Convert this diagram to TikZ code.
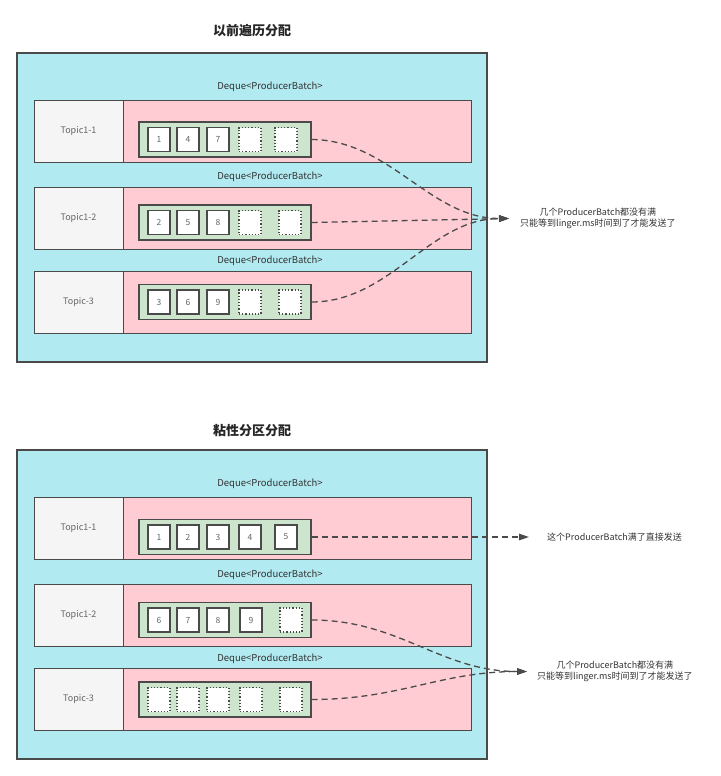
\documentclass[tikz,border=0pt]{standalone}
\usepackage{fontspec}
\setmainfont{Noto Sans CJK SC}
\usetikzlibrary{arrows.meta}

\definecolor{poolblue}{HTML}{B1EAF0}
\definecolor{dequepink}{HTML}{FFCCD3}
\definecolor{batchgreen}{HTML}{CDE5CC}
\definecolor{topicgray}{HTML}{F5F5F5}
\definecolor{edgegray}{HTML}{4A4A4A}
\definecolor{textgray}{HTML}{666666}

\tikzset{
 pool/.style={draw=edgegray, line width=1.2pt, fill=poolblue, minimum width=470pt, minimum height=309pt, inner sep=0pt},
 topic/.style={draw=edgegray, line width=1pt, fill=topicgray, minimum width=89pt, minimum height=62pt, inner sep=0pt, font=\fontsize{9}{10}\selectfont, text=textgray},
 deque/.style={draw=edgegray, line width=1pt, fill=dequepink, minimum width=348pt, minimum height=62pt, inner sep=0pt},
 batch/.style={draw=edgegray, line width=1.2pt, fill=batchgreen, minimum width=172pt, minimum height=35pt, inner sep=0pt},
 rec/.style={draw=edgegray, line width=1.2pt, fill=white, minimum width=22pt, minimum height=24pt, inner sep=0pt, font=\fontsize{8.5}{9}\selectfont, text=textgray},
 free/.style={rec, dotted, line width=1.4pt},
 dqlabel/.style={font=\fontsize{9.5}{10}\selectfont, text=black!80},
 headline/.style={font=\bfseries\fontsize{13}{15}\selectfont, text=black!85},
 note/.style={font=\fontsize{9}{11.5}\selectfont, align=center, text=black!80, anchor=west},
 wait/.style={edgegray, line width=1.3pt, dash pattern=on 6pt off 4pt, -{Triangle[length=10pt,width=6.5pt]}}
}

\begin{document}
\begin{tikzpicture}[x=1pt, y=-1pt]
%\draw[help lines] (0,0) grid[step=20] (720,776);
\useasboundingbox (0,0) rectangle (720,776);

% before: round robin
\node[headline] (head1) at (252,31) {以前遍历分配};
\node[pool] (pool1) at (252,207.5) {};

\node[dqlabel] (dq1) at (270,87) {Deque<ProducerBatch>};
\node[topic] (tp1) at (78.5,131.5) {Topic1-1};
\node[deque] (q1) at (297,131.5) {};
\node[batch] (b1) at (225,139.5) {};
\node[rec] (b1s1) at (159,139.5) {1};
\node[rec] (b1s2) at (188,139.5) {4};
\node[rec] (b1s3) at (218,139.5) {7};
\node[free] (b1s4) at (250,139.5) {};
\node[free] (b1s5) at (286,139.5) {};

\node[dqlabel] (dq2) at (270,177) {Deque<ProducerBatch>};
\node[topic] (tp2) at (78.5,218) {Topic1-2};
\node[deque] (q2) at (297,218) {};
\node[batch] (b2) at (225,222.5) {};
\node[rec] (b2s1) at (159,222.5) {2};
\node[rec] (b2s2) at (188,222.5) {5};
\node[rec] (b2s3) at (218,222.5) {8};
\node[free] (b2s4) at (250,222.5) {};
\node[free] (b2s5) at (290,222.5) {};

\node[dqlabel] (dq3) at (270,261) {Deque<ProducerBatch>};
\node[topic] (tp3) at (78.5,302.5) {Topic-3};
\node[deque] (q3) at (297,302.5) {};
\node[batch] (b3) at (225,302) {};
\node[rec] (b3s1) at (159,302) {3};
\node[rec] (b3s2) at (188,302) {6};
\node[rec] (b3s3) at (218,302) {9};
\node[free] (b3s4) at (250,302) {};
\node[free] (b3s5) at (290,302) {};

\node[note, inner xsep=11pt] (n1) at (509,218.5) {几个ProducerBatch都没有满\\只能等到linger.ms时间到了才能发送了};
\draw[wait] (b1.east) .. controls (390,140) and (430,218.5) .. (n1.west);
\draw[wait] (b2.east) -- (n1.west);
\draw[wait] (b3.east) .. controls (390,302) and (430,218.5) .. (n1.west);

% after: sticky partition
\node[headline] (head2) at (252,431) {粘性分区分配};
\node[pool] (pool2) at (252,604.5) {};

\node[dqlabel] (dq4) at (270,484) {Deque<ProducerBatch>};
\node[topic] (tp4) at (78.5,528.5) {Topic1-1};
\node[deque] (q4) at (297,528.5) {};
\node[batch] (b4) at (225,537) {};
\node[rec] (b4s1) at (159,537) {1};
\node[rec] (b4s2) at (188,537) {2};
\node[rec] (b4s3) at (218,537) {3};
\node[rec] (b4s4) at (250,537) {4};
\node[rec] (b4s5) at (286,537) {5};

\node[dqlabel] (dq5) at (270,575) {Deque<ProducerBatch>};
\node[topic] (tp5) at (78.5,615.5) {Topic1-2};
\node[deque] (q5) at (297,615.5) {};
\node[batch] (b5) at (225,620) {};
\node[rec] (b5s1) at (159,620) {6};
\node[rec] (b5s2) at (188,620) {7};
\node[rec] (b5s3) at (218,620) {8};
\node[rec] (b5s4) at (251,620) {9};
\node[free] (b5s5) at (291,620) {};

\node[dqlabel] (dq6) at (270,659) {Deque<ProducerBatch>};
\node[topic] (tp6) at (78.5,699) {Topic-3};
\node[deque] (q6) at (297,699) {};
\node[batch] (b6) at (225,699.5) {};
\node[free] (b6s1) at (159,699.5) {};
\node[free] (b6s2) at (188,699.5) {};
\node[free] (b6s3) at (218,699.5) {};
\node[free] (b6s4) at (251,699.5) {};
\node[free] (b6s5) at (291,699.5) {};

\node[note, inner xsep=18pt] (n2) at (529,537) {这个ProducerBatch满了直接发送};
\node[note, inner xsep=10pt] (n3) at (527,671.5) {几个ProducerBatch都没有满\\只能等到linger.ms时间到了才能发送了};
\draw[wait] (b4.east) -- (n2.west);
\draw[wait] (b5.east) .. controls (400,620) and (440,671.5) .. (n3.west);
\draw[wait] (b6.east) .. controls (400,699.5) and (440,671.5) .. (n3.west);

\end{tikzpicture}
\end{document}
